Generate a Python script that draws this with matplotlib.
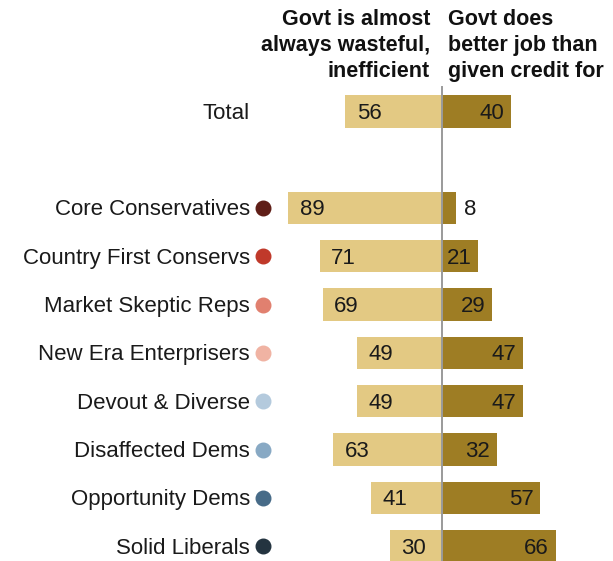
import matplotlib
matplotlib.use("Agg")
import matplotlib.pyplot as plt

# values
groups = ["Core Conservatives", "Country First Conservs", "Market Skeptic Reps",
          "New Era Enterprisers", "Devout & Diverse", "Disaffected Dems",
          "Opportunity Dems", "Solid Liberals"]
dot_colors = ["#5f1e17", "#c0392a", "#e1806f", "#f0b3a3", "#b4cadd",
              "#88a9c4", "#476b88", "#243440"]
wasteful = [89, 71, 69, 49, 49, 63, 41, 30]
better_job = [8, 21, 29, 47, 47, 32, 57, 66]
total_wasteful = 56
total_better = 40
head_left = ["Govt is almost", "always wasteful,", "inefficient"]
head_right = ["Govt does", "better job than", "given credit for"]

left_color = "#e3c983"
right_color = "#9e7d24"

W, H = 613, 561
center_px = 442
px_per_unit = 1.725
row0_px = 208
row_step = 48.3

fig = plt.figure(figsize=(W / 100, H / 100), dpi=100)
ax = fig.add_axes([0, 0, 1, 1])
ax.set_xlim(-center_px / px_per_unit, (W - center_px) / px_per_unit)
ax.set_ylim((H - row0_px) / row_step, -row0_px / row_step)
ax.axis("off")

label_font = dict(family="Liberation Sans", fontsize=16)
head_font = dict(family="Liberation Sans", fontsize=15.5, fontweight="bold")

rows = [-2] + list(range(len(groups)))
lefts = [total_wasteful] + wasteful
rights = [total_better] + better_job
names = ["Total"] + groups
bar_h = 0.67
text_dy = 0.04  # nudge text down a touch to sit centred in the bars

ax.barh(rows, [-v for v in lefts], height=bar_h, color=left_color)
ax.barh(rows, rights, height=bar_h, color=right_color)

label_x = 250 / W
dot_x = 263 / W
for i, (r, name, lv, rv) in enumerate(zip(rows, names, lefts, rights)):
    ty = r + text_dy
    ax.text(label_x, ty, name, transform=ax.get_yaxis_transform(),
            ha="right", va="center", color="#1a1a1a", **label_font)
    if i > 0:
        ax.scatter([dot_x], [r], s=110, color=dot_colors[i - 1],
                   transform=ax.get_yaxis_transform(), zorder=3, clip_on=False)
    ax.text(-lv + 6.5, ty, str(lv), ha="left", va="center", color="#1a1a1a", **label_font)
    if rv >= 15:
        ax.text(rv - 4, ty, str(rv), ha="right", va="center", color="#1a1a1a", **label_font)
    else:
        ax.text(rv + 5, ty, str(rv), ha="left", va="center", color="#1a1a1a", **label_font)

# center divider
ax.plot([0, 0], [-2.5, 8.5], color="#9a9a9a", lw=1.4, zorder=4)

# column headers, one line at a time
for k, (tl, tr) in enumerate(zip(head_left, head_right)):
    y = 1 - (25 + 26 * k) / H
    fig.text(430 / W, y, tl, ha="right", va="baseline", color="#111111", **head_font)
    fig.text(448 / W, y, tr, ha="left", va="baseline", color="#111111", **head_font)

fig.savefig("out.png", dpi=100)
